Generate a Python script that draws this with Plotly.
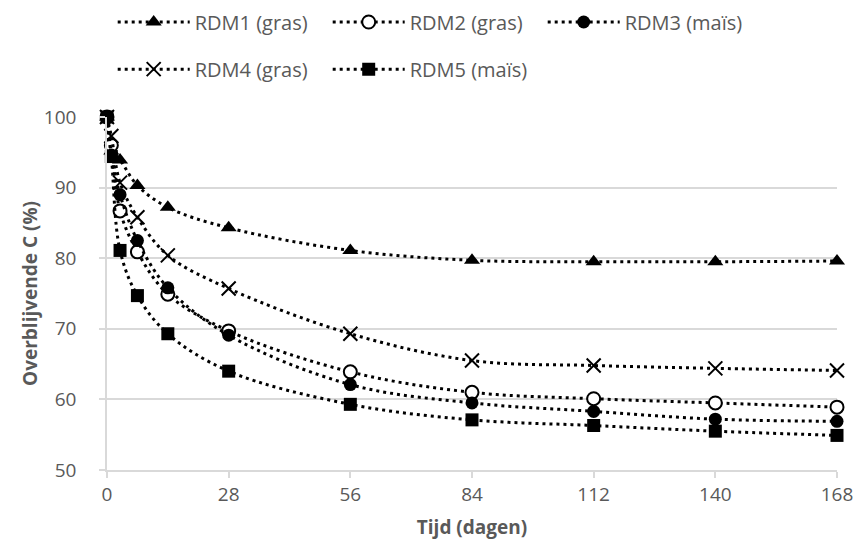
import plotly.graph_objects as go

days = [0, 1, 3, 7, 14, 28, 56, 84, 112, 140, 168]
rdm1 = [100, 95.2, 93.9, 90.3, 87.2, 84.3, 81.1, 79.7, 79.5, 79.5, 79.6]
rdm2 = [100, 96.0, 86.7, 80.9, 74.9, 69.7, 63.9, 61.0, 60.1, 59.5, 58.9]
rdm3 = [100, 94.6, 89.0, 82.5, 75.8, 69.1, 62.1, 59.5, 58.3, 57.2, 56.9]
rdm4 = [100, 97.3, 90.7, 85.8, 80.4, 75.7, 69.3, 65.5, 64.8, 64.4, 64.1]
rdm5 = [100, 94.4, 81.1, 74.7, 69.3, 64.0, 59.3, 57.1, 56.3, 55.5, 54.9]

names = ["RDM1 (gras)", "RDM2 (gras)", "RDM3 (maïs)", "RDM4 (gras)", "RDM5 (maïs)"]
series = [rdm1, rdm2, rdm3, rdm4, rdm5]
x_ticks = [0, 28, 56, 84, 112, 140, 168]
y_ticks = [50, 60, 70, 80, 90, 100]

symbols = ["triangle-up", "circle-open", "circle", "x-thin-open", "square"]
sizes = [14, 13, 13, 14, 13]
legends = ["legend", "legend", "legend", "legend2", "legend2"]

FONT = "Open Sans"
GRAY = "#595959"
GRID = "#d9d9d9"

fig = go.Figure()
for name, ys, sym, sz, lg in zip(names, series, symbols, sizes, legends):
    marker = dict(symbol=sym, size=sz, color="black")
    if sym == "circle-open":
        marker = dict(symbol="circle", size=sz, color="white",
                      line=dict(color="black", width=2))
    elif sym == "x-thin-open":
        marker = dict(symbol="x-thin-open", size=sz, color="black",
                      line=dict(color="black", width=2))
    fig.add_trace(go.Scatter(
        x=days, y=ys, name=name, mode="lines+markers",
        line=dict(color="black", width=3, dash="3px,4px", shape="spline", smoothing=1),
        marker=marker, legend=lg, cliponaxis=False,
    ))

leg_common = dict(orientation="h", xref="container", yref="container",
                  x=0.1315, xanchor="left", yanchor="top",
                  font=dict(size=20, color=GRAY), itemwidth=72,
                  entrywidth=128, bgcolor="rgba(0,0,0,0)")

fig.update_layout(
    width=857, height=558,
    margin=dict(l=107, r=20, t=117, b=88),
    plot_bgcolor="white", paper_bgcolor="white",
    font=dict(family=FONT, color=GRAY, size=16),
    legend=dict(leg_common, y=0.9955),
    legend2=dict(leg_common, y=0.911),
    xaxis=dict(range=[0, 168], tickvals=x_ticks, ticktext=[str(t) for t in x_ticks],
               showgrid=False, showline=True, linecolor=GRID, linewidth=1.5,
               ticks="outside", ticklen=6, tickcolor=GRID, tickwidth=1.5,
               tickfont=dict(size=19, color=GRAY), zeroline=False, automargin=False,
               title=dict(text="<b>Tijd (dagen)</b>", font=dict(size=19, color=GRAY), standoff=15)),
    yaxis=dict(range=[50, 100], tickvals=y_ticks, showgrid=True, gridcolor=GRID, gridwidth=1.5,
               showline=True, linecolor=GRID, linewidth=1.5,
               ticks="outside", ticklen=6, tickcolor=GRID, tickwidth=1.5,
               ticklabelstandoff=19,
               tickfont=dict(size=19, color=GRAY), zeroline=False, automargin=False,
               title=dict(text="<b>Overblijvende C (%)</b>", font=dict(size=19, color=GRAY), standoff=1)),
)

fig.write_html("out.html", config={"displayModeBar": False},
               post_script="document.body.style.margin='0';")
